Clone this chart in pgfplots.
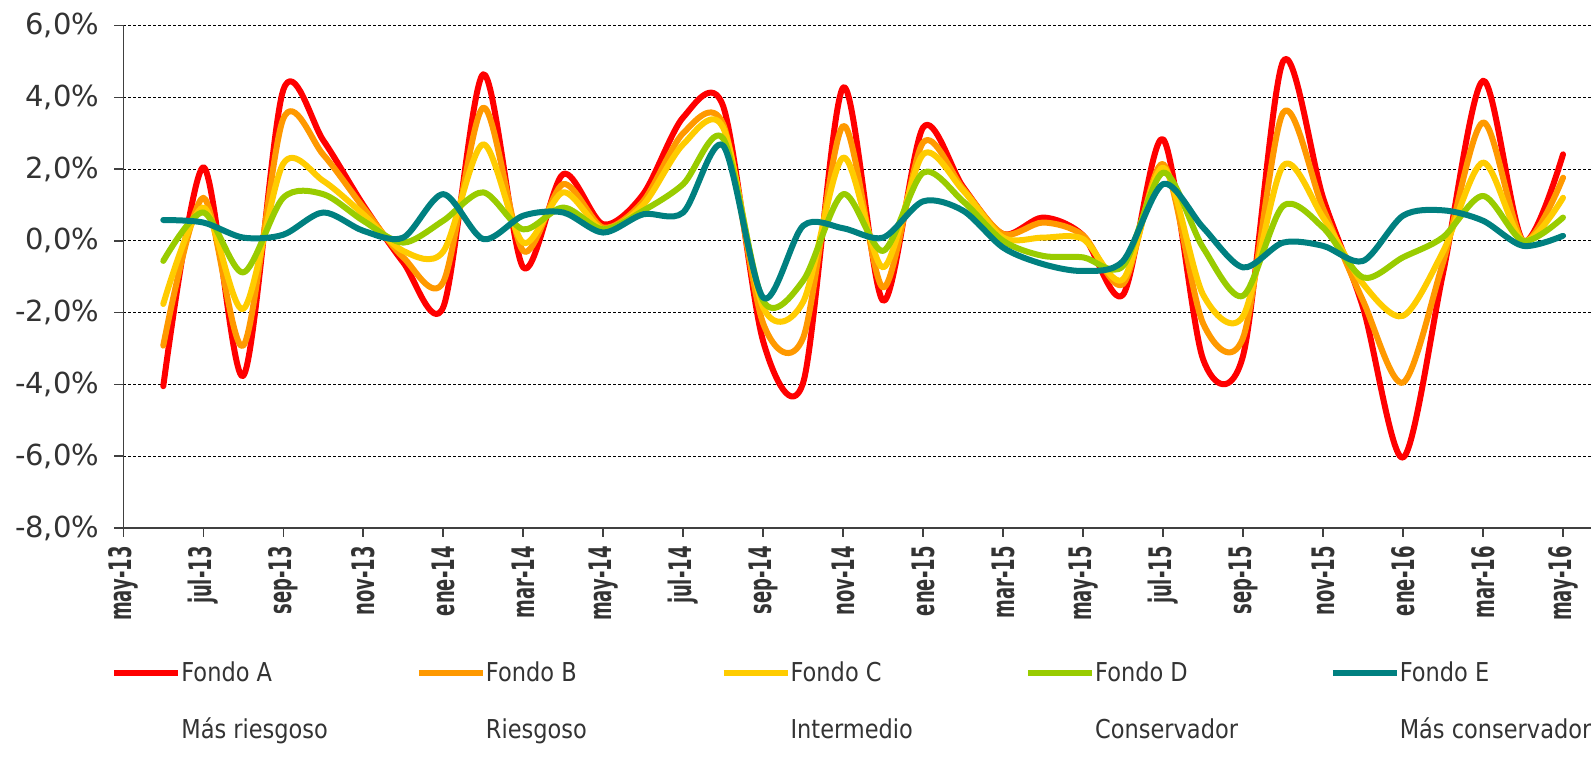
\documentclass[border=0pt]{standalone}
\usepackage{fontspec}
\setmainfont{DejaVu Sans}
\newfontfamily\xlabfont[FakeStretch=0.58]{DejaVu Sans}
\newfontfamily\legfont[FakeStretch=0.865]{DejaVu Sans}
\usepackage{pgfplots}
\pgfplotsset{compat=1.18}
\usepackage{pgfplotstable}
\definecolor{fA}{HTML}{FF0000}
\definecolor{fB}{HTML}{FF9900}
\definecolor{fC}{HTML}{FFCC00}
\definecolor{fD}{HTML}{99CC00}
\definecolor{fE}{HTML}{008080}
\definecolor{txt}{HTML}{333333}
\definecolor{axisgray}{HTML}{404040}

\pgfplotstableread{
i A B C D E
1 -4.05 -2.92 -1.76 -0.56 0.58
2 2.05 1.20 0.93 0.79 0.51
3 -3.76 -2.92 -1.90 -0.88 0.09
4 4.20 3.40 2.15 1.20 0.17
5 2.80 2.40 1.67 1.30 0.79
6 1.00 0.93 0.74 0.56 0.28
7 -0.60 -0.46 -0.28 -0.05 0.09
8 -1.85 -1.15 -0.30 0.56 1.30
9 4.64 3.71 2.69 1.35 0.05
10 -0.74 -0.28 -0.05 0.32 0.70
11 1.86 1.58 1.35 0.93 0.79
12 0.46 0.37 0.32 0.32 0.23
13 1.30 1.10 1.00 0.84 0.74
14 3.44 3.00 2.69 1.58 0.79
15 3.75 3.25 3.15 2.85 2.65
16 -2.80 -2.30 -1.85 -1.67 -1.58
17 -3.95 -2.70 -1.70 -1.11 0.42
18 4.27 3.20 2.32 1.30 0.35
19 -1.67 -1.30 -0.74 -0.28 0.09
20 3.16 2.74 2.41 1.90 1.10
21 1.50 1.45 1.40 1.10 0.84
22 0.19 0.19 0.09 0.00 -0.19
23 0.65 0.51 0.09 -0.42 -0.65
24 0.15 0.15 0.05 -0.46 -0.84
25 -1.50 -1.20 -1.07 -0.70 -0.56
26 2.83 2.14 2.04 1.90 1.58
27 -3.30 -2.30 -1.50 -0.19 0.37
28 -3.20 -2.70 -2.10 -1.53 -0.74
29 5.00 3.57 2.09 0.97 -0.05
30 1.20 0.90 0.65 0.37 -0.14
31 -1.86 -1.67 -1.20 -1.02 -0.56
32 -6.04 -3.95 -2.09 -0.46 0.70
33 -0.90 -0.60 -0.30 0.10 0.85
34 4.46 3.30 2.18 1.25 0.56
35 0.00 0.00 0.00 0.00 -0.14
36 2.41 1.76 1.20 0.65 0.14
}\data

\begin{document}
\begin{tikzpicture}
\begin{axis}[
  name=ax,
  scale only axis,
  width=733.85pt, height=251.25pt,
  xmin=0, xmax=36.7, ymin=-8, ymax=6,
  axis x line*=bottom, axis y line*=left,
  axis line style={color=axisgray, line width=0.75pt},
  ytick={-8,-6,-4,-2,0,2,4,6},
  yticklabels={{-8,0\%},{-6,0\%},{-4,0\%},{-2,0\%},{0,0\%},{2,0\%},{4,0\%},{6,0\%}},
  ymajorgrids,
  major grid style={black, line width=0.5pt, dash pattern=on 1.5pt off 1pt},
  xtick={0,2,...,36},
  xticklabels={may-13,jul-13,sep-13,nov-13,ene-14,mar-14,may-14,jul-14,sep-14,nov-14,ene-15,mar-15,may-15,jul-15,sep-15,nov-15,ene-16,mar-16,may-16},
  tick align=outside, major tick length=4.5pt,
  tick style={color=axisgray, line width=0.75pt},
  xticklabel style={rotate=90, anchor=east, inner sep=0pt, font=\xlabfont\bfseries\fontsize{15.5}{16}\selectfont, text=txt},
  xticklabel shift=4.5pt,
  yticklabel style={font=\fontsize{14.5}{15}\selectfont, text=txt, xshift=-4pt},
  legend columns=5,
  legend cell align=left,
  legend style={draw=none, fill=none, inner sep=0pt, at={(-0.0084,-0.2647)}, anchor=north west,
    font=\legfont\fontsize{13}{14}\selectfont, text=txt,
    /tikz/every even column/.append style={column sep=0pt},
    row sep=17pt, nodes={inner sep=0pt}},
  legend image code/.code={\draw[#1, line width=3pt, line cap=butt] (0pt,0pt) -- (32pt,0pt);},
  every axis plot/.append style={smooth, line width=3pt, line join=round, line cap=round},
]
\addplot[fA] table[x=i, y=A] {\data};
\addlegendentry{\makebox[117.3pt][l]{Fondo A}}
\addplot[fB] table[x=i, y=B] {\data};
\addlegendentry{\makebox[117.3pt][l]{Fondo B}}
\addplot[fC] table[x=i, y=C] {\data};
\addlegendentry{\makebox[117.3pt][l]{Fondo C}}
\addplot[fD] table[x=i, y=D] {\data};
\addlegendentry{\makebox[117.3pt][l]{Fondo D}}
\addplot[fE] table[x=i, y=E] {\data};
\addlegendentry{\makebox[117.3pt][l]{Fondo E}}
\addlegendimage{empty legend}\addlegendentry{\makebox[117.3pt][l]{Más riesgoso}}
\addlegendimage{empty legend}\addlegendentry{\makebox[117.3pt][l]{Riesgoso}}
\addlegendimage{empty legend}\addlegendentry{\makebox[117.3pt][l]{Intermedio}}
\addlegendimage{empty legend}\addlegendentry{\makebox[117.3pt][l]{Conservador}}
\addlegendimage{empty legend}\addlegendentry{\makebox[90pt][l]{Más conservador}}
\coordinate (bbll) at (rel axis cs:-0.0840,-0.4816);
\coordinate (bbur) at (rel axis cs:1,1.0507);
\end{axis}
\pgfresetboundingbox
\path[use as bounding box] (bbll) rectangle (bbur);
\end{tikzpicture}
\end{document}
